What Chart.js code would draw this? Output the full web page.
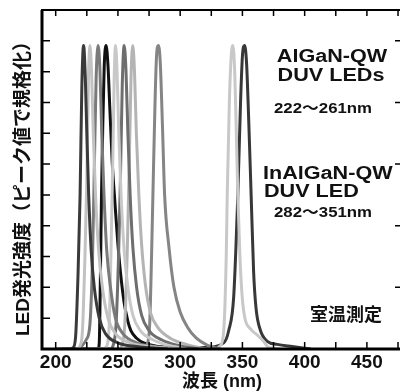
<!doctype html>
<html>
  <head>
    <meta charset="utf-8" />
    <title>LED spectra</title>
    <script src="https://cdn.jsdelivr.net/npm/chart.js"></script>
    <style>
      html, body { margin: 0; padding: 0; background: #fff; overflow: hidden; }
      canvas { display: block; }
    </style>
  </head>
  <body>
    <canvas id="chart" width="406" height="391"></canvas>
    <script>
      // spectra (wavelength nm / normalised intensity)
      const wl222 = [200, 212, 214, 216, 218, 219.6, 221, 222.4, 223.8, 225, 226.5, 228.5, 231, 235, 240, 250, 265, 290];
      const in222 = [0, 0, 0.004, 0.04, 0.25, 0.5, 0.85, 0.985, 0.88, 0.7, 0.5, 0.32, 0.2, 0.1, 0.05, 0.02, 0.008, 0];

      const wl227 = [205, 217, 219.5, 221.5, 223.5, 225, 226.3, 227.5, 228.8, 230.2, 232, 234.5, 237.5, 242, 248, 260, 275, 300];
      const in227 = [0, 0, 0.01, 0.06, 0.3, 0.55, 0.88, 0.985, 0.9, 0.7, 0.5, 0.32, 0.2, 0.1, 0.05, 0.02, 0.008, 0];

      const wl234 = [205, 218, 221, 224.5, 227.5, 229.5, 231, 232.5, 234.1, 235.6, 237, 238.8, 241, 244, 248, 254, 265, 280, 300];
      const in234 = [0, 0, 0.01, 0.03, 0.08, 0.28, 0.58, 0.88, 0.985, 0.9, 0.7, 0.5, 0.32, 0.2, 0.1, 0.05, 0.02, 0.008, 0];

      const wl240 = [215, 234, 235, 235.8, 236.8, 237.8, 239, 240.5, 242, 243.5, 245.5, 247.5, 249.7, 252, 255, 258, 260.4, 265, 270.7, 280, 295, 310];
      const in240 = [0, 0, 0.02, 0.2, 0.5, 0.72, 0.92, 0.985, 0.92, 0.78, 0.6, 0.48, 0.355, 0.25, 0.15, 0.09, 0.06, 0.035, 0.02, 0.01, 0.004, 0];

      const wl248 = [225, 238, 241, 243, 244.5, 245.8, 247, 248.1, 249.3, 250.7, 252.5, 255, 258, 262, 268, 278, 290, 305];
      const in248 = [0, 0, 0.01, 0.08, 0.33, 0.6, 0.88, 0.985, 0.9, 0.7, 0.5, 0.32, 0.2, 0.11, 0.06, 0.03, 0.012, 0];

      const wl255 = [230, 244, 246, 248.5, 250.5, 252, 253.5, 255, 256.5, 258, 259.8, 262, 265, 269, 275, 285, 300, 315];
      const in255 = [0, 0, 0.01, 0.08, 0.3, 0.55, 0.86, 0.985, 0.9, 0.7, 0.5, 0.33, 0.2, 0.11, 0.06, 0.03, 0.01, 0];

      const wl261 = [235, 251, 253, 255.5, 257.5, 259, 260.5, 261.9, 263.3, 264.8, 266.8, 269, 272, 276, 282, 292, 305, 320];
      const in261 = [0, 0, 0.01, 0.08, 0.32, 0.58, 0.88, 0.985, 0.9, 0.7, 0.5, 0.34, 0.21, 0.12, 0.07, 0.035, 0.015, 0];

      const wl282 = [255, 271, 273, 275.5, 277, 278.1, 279.8, 281, 282.5, 284, 285.8, 287.5, 291, 295, 300, 306, 313, 322, 332];
      const in282 = [0, 0, 0.01, 0.08, 0.3, 0.5, 0.8, 0.95, 0.985, 0.93, 0.72, 0.5, 0.33, 0.2, 0.12, 0.07, 0.035, 0.012, 0];

      const wl342 = [315, 328, 332, 335, 337, 337.8, 339.5, 341, 342.3, 343.8, 345, 346.3, 348, 349.8, 352, 356.5, 362, 367, 371, 380];
      const in342 = [0, 0, 0.01, 0.06, 0.3, 0.5, 0.8, 0.95, 0.985, 0.9, 0.72, 0.5, 0.3, 0.17, 0.1, 0.065, 0.045, 0.025, 0.005, 0];

      const wl351 = [290, 320, 335, 339, 343, 346.3, 348.5, 350, 351.7, 353.3, 355, 357, 359, 361, 364.5, 370, 378, 390, 405];
      const in351 = [0.004, 0.005, 0.02, 0.06, 0.17, 0.5, 0.8, 0.95, 0.985, 0.93, 0.75, 0.5, 0.25, 0.13, 0.06, 0.025, 0.015, 0.008, 0];

      const spectra = [
        [wl222, in222, "#3a3a3a"],
        [wl227, in227, "#c2c2c2"],
        [wl234, in234, "#7a7a7a"],
        [wl248, in248, "#c8c8c8"],
        [wl255, in255, "#6e6e6e"],
        [wl261, in261, "#b4b4b4"],
        [wl282, in282, "#858585"],
        [wl342, in342, "#c8c8c8"],
        [wl351, in351, "#383838"],
        [wl240, in240, "#111111"],
      ];

      const xTickLabels = [200, 250, 300, 350, 400, 450];

      const FONT = '"Liberation Sans", "Noto Sans CJK JP", sans-serif';

      function text(ctx, s, x, y, size, align, sx) {
        ctx.save();
        ctx.translate(x, y);
        ctx.scale(sx, 1);
        ctx.font = `bold ${size}px ${FONT}`;
        ctx.textAlign = align;
        ctx.textBaseline = "middle";
        ctx.fillStyle = "#111";
        ctx.fillText(s, 0, 0);
        ctx.restore();
      }

      const decor = {
        id: "decor",
        afterDatasetsDraw(chart) {
          const { ctx, chartArea: a, scales } = chart;
          const x = scales.x, y = scales.y;
          ctx.save();
          ctx.strokeStyle = "#000";
          ctx.lineWidth = 1.5;
          ctx.beginPath();
          x.ticks.forEach((t) => {
            const px = x.getPixelForValue(t.value);
            ctx.moveTo(px, a.bottom);
            ctx.lineTo(px, a.bottom - 7);
            ctx.moveTo(px, a.top);
            ctx.lineTo(px, a.top + 6);
          });
          y.ticks.forEach((t) => {
            if (t.value <= 0.05 || t.value > 1.05) return;
            const py = y.getPixelForValue(t.value);
            ctx.moveTo(a.left, py);
            ctx.lineTo(a.left + 8, py);
            if (Math.round(t.value * 10) % 2 === 0) {
              ctx.moveTo(a.right, py);
              ctx.lineTo(a.right - 8, py);
            }
          });
          ctx.stroke();
          // frame
          ctx.lineWidth = 2;
          ctx.strokeRect(a.left, a.top, a.right - a.left, a.bottom - a.top);
          ctx.lineWidth = 3;
          ctx.beginPath();
          ctx.moveTo(a.left, a.top);
          ctx.lineTo(a.left, a.bottom);
          ctx.lineTo(a.right, a.bottom);
          ctx.stroke();
          ctx.restore();
        },
        afterDraw(chart) {
          const ctx = chart.ctx;
          text(ctx, "AlGaN-QW", 332, 57, 18, "center", 1.2);
          text(ctx, "DUV LEDs", 331, 76, 18, "center", 1.2);
          text(ctx, "222〜261nm", 323, 109, 15, "center", 1.12);
          text(ctx, "InAlGaN-QW", 263, 174, 18, "left", 1.2);
          text(ctx, "DUV LED", 264, 192, 18, "left", 1.2);
          text(ctx, "282〜351nm", 323, 213, 15, "center", 1.12);
          text(ctx, "室温測定", 346, 316, 18, "center", 1);
          text(ctx, "波長 (nm)", 222, 382, 18, "center", 1);
          ctx.save();
          ctx.translate(24, 184);
          ctx.rotate(-Math.PI / 2);
          text(ctx, "LED発光強度（ピーク値で規格化）", 0, 0, 19, "center", 1);
          ctx.restore();
        },
      };

      new Chart(document.getElementById("chart"), {
        type: "line",
        data: {
          datasets: spectra.map(([wl, val, color]) => ({
            data: wl.map((w, i) => ({ x: w, y: val[i] })),
            borderColor: color,
            borderWidth: 3,
            pointRadius: 0,
            cubicInterpolationMode: "monotone",
            fill: false,
          })),
        },
        options: {
          responsive: false,
          animation: false,
          devicePixelRatio: 1,
          layout: { padding: { top: 10, right: 3, left: 0, bottom: 0 } },
          plugins: { legend: { display: false }, tooltip: { enabled: false } },
          scales: {
            x: {
              type: "linear",
              min: 189,
              max: 479,
              grid: { display: false, drawTicks: false },
              border: { display: false },
              ticks: {
                stepSize: 25,
                includeBounds: false,
                autoSkip: false,
                maxRotation: 0,
                padding: 2,
                color: "#111",
                font: { family: FONT, size: 19, weight: "bold" },
                callback: (v) => (xTickLabels.includes(v) ? String(v) : ""),
              },
              afterFit: (s) => { s.height = 42; },
            },
            y: {
              min: 0,
              max: 1.1,
              grid: { display: false, drawTicks: false },
              border: { display: false },
              ticks: { stepSize: 0.1, display: false },
              afterFit: (s) => { s.width = 42; },
            },
          },
        },
        plugins: [decor],
      });
    </script>
  </body>
</html>
